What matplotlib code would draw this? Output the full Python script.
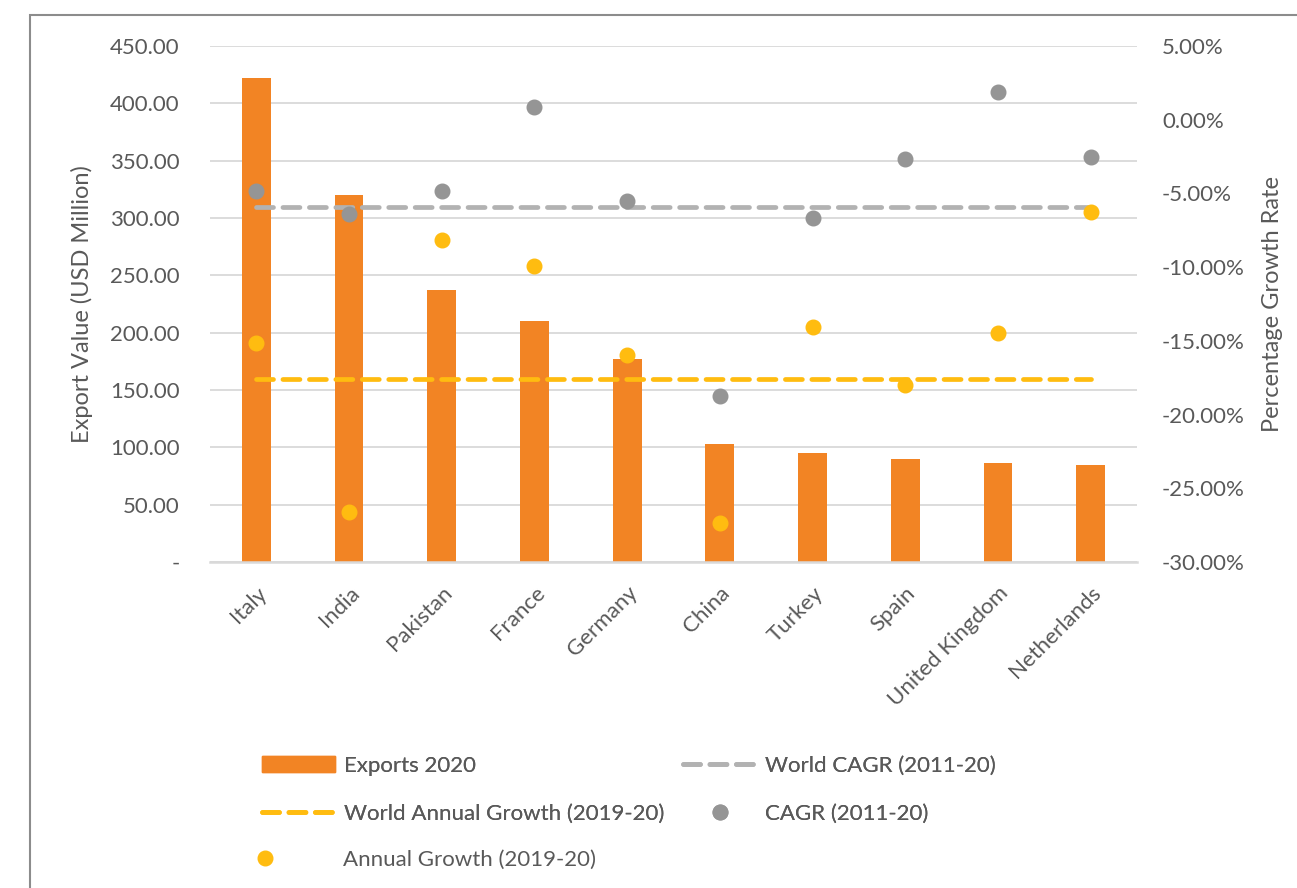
import numpy as np
import matplotlib.pyplot as plt
from matplotlib.lines import Line2D
from matplotlib.patches import Patch, Rectangle
from matplotlib.ticker import FuncFormatter, MultipleLocator

plt.rcParams['font.family'] = ['Lato', 'DejaVu Sans']

countries = ['Italy', 'India', 'Pakistan', 'France', 'Germany', 'China',
             'Turkey', 'Spain', 'United Kingdom', 'Netherlands']
exports_2020 = [421.8, 320.0, 237.0, 210.0, 177.0, 102.7, 95.1, 90.2, 86.4, 84.6]
cagr_2011_20 = [-4.84, -6.42, -4.84, 0.86, -5.50, -18.74, -6.69, -2.64, 1.88, -2.53]
annual_2019_20 = [-15.17, -26.64, -8.18, -9.93, -15.98, -27.34, -14.08, -18.00, -14.45, -6.24]
world_cagr = -5.9
world_annual = -17.6

ORANGE = '#F28424'
GOLD = '#FFBC10'
DOT_GREY = '#959595'
LINE_GREY = '#B2B2B2'
TEXT = '#595959'
FS = 16

W, H = 1297, 888
fig = plt.figure(figsize=(W / 100, H / 100), dpi=100)

# outer chart border
fig.patches.append(Rectangle((30 / W, -0.1), 1.2, 1 - 15 / H + 0.1,
                             transform=fig.transFigure, fill=False,
                             edgecolor='#8C8C8C', lw=1.5))

ax = fig.add_axes([210 / W, 1 - 562 / H, 927 / W, 516 / H])
x = np.arange(len(countries))
ax.bar(x, exports_2020, width=0.31, color=ORANGE, zorder=2)
ax.set_xlim(-0.5, len(countries) - 0.5)
ax.set_ylim(0, 450)
ax.yaxis.set_major_locator(MultipleLocator(50))
ax.yaxis.set_major_formatter(FuncFormatter(lambda v, p: '-' if v == 0 else f'{v:.2f}'))
ax.grid(axis='y', color='#D9D9D9', lw=1.3, zorder=0)
ax.set_axisbelow(True)
for s in ['top', 'left', 'right']:
    ax.spines[s].set_visible(False)
ax.spines['bottom'].set_color('#D9D9D9')
ax.spines['bottom'].set_linewidth(1.8)
ax.set_xticks(x)
ax.set_xticklabels(countries, rotation=45, ha='right', rotation_mode='anchor')
ax.tick_params(axis='x', length=0, pad=15, labelsize=FS, labelcolor=TEXT)
ax.tick_params(axis='y', length=0, pad=22, labelsize=FS, labelcolor=TEXT)
ax.set_ylabel('Export Value (USD Million)', fontsize=FS + 1, color=TEXT)
ax.yaxis.set_label_coords(-0.126, 0.5)

ax2 = ax.twinx()
ax2.set_ylim(-30, 5)
ax2.yaxis.set_major_locator(MultipleLocator(5))
ax2.yaxis.set_major_formatter(FuncFormatter(lambda v, p: f'{v:.2f}%'))
for s in ax2.spines.values():
    s.set_visible(False)
ax2.tick_params(axis='y', length=0, pad=18, labelsize=FS, labelcolor=TEXT)
ax2.set_ylabel('Percentage Growth Rate', fontsize=FS + 1, color=TEXT, rotation=90)
ax2.yaxis.set_label_coords(1.135, 0.5)

dash_kw = dict(lw=3.4, dashes=(3.6, 2.0), dash_capstyle='round')
ax2.plot(x, [world_cagr] * len(x), color=LINE_GREY, **dash_kw)
ax2.plot(x, [world_annual] * len(x), color=GOLD, **dash_kw)
ax2.plot(x, cagr_2011_20, 'o', ms=10.5, color=DOT_GREY, ls='none')
ax2.plot(x, annual_2019_20, 'o', ms=10.5, color=GOLD, ls='none')

# legend, placed by hand in two columns
leg_kw = dict(frameon=False, loc='upper left', borderpad=0, borderaxespad=0,
              fontsize=FS, labelcolor=TEXT, handlelength=3.3, handletextpad=0.4,
              labelspacing=1.24)
col1 = [Patch(color=ORANGE, label='Exports 2020'),
        Line2D([], [], color=GOLD, label='World Annual Growth (2019-20)', **dash_kw)]
col2 = [Line2D([], [], color=LINE_GREY, label='World CAGR (2011-20)', **dash_kw),
        Line2D([], [], marker='o', ms=10.5, ls='none', color=DOT_GREY,
               label='CAGR (2011-20)')]
fig.add_artist(fig.legend(handles=col1, bbox_to_anchor=(262 / W, 1 - 756 / H), **leg_kw))
fig.add_artist(fig.legend(handles=col2, bbox_to_anchor=(683 / W, 1 - 756 / H), **leg_kw))
row3 = [Line2D([], [], marker='o', ms=10.5, ls='none', color=GOLD,
               label='Annual Growth (2019-20)')]
kw3 = dict(leg_kw, handlelength=1.0, handletextpad=3.0)
fig.legend(handles=row3, bbox_to_anchor=(254 / W, 1 - 850 / H), **kw3)

fig.savefig('out.png', dpi=100)
